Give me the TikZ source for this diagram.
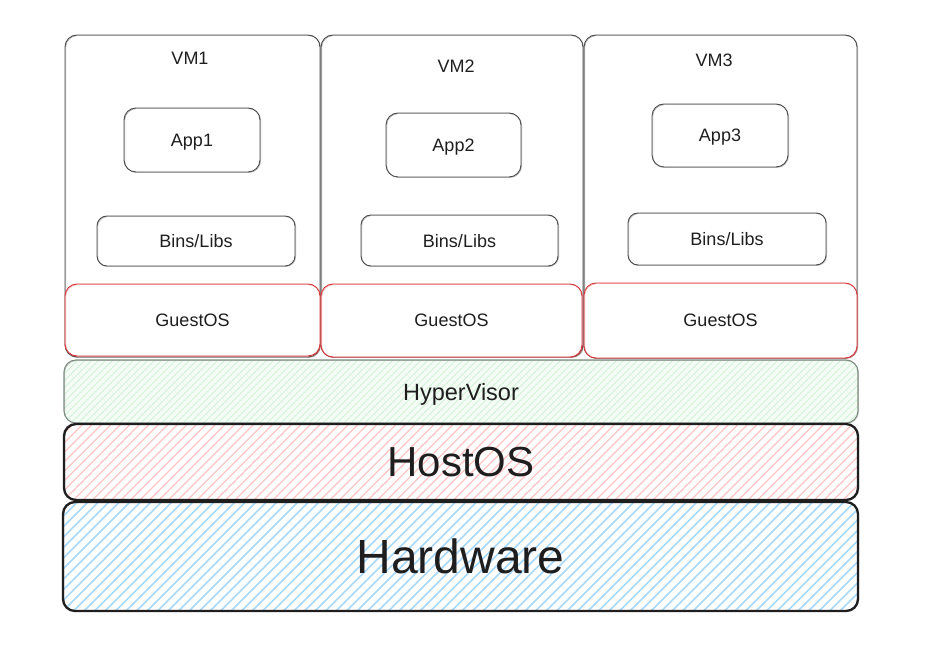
\documentclass[tikz,border=0pt]{standalone}
\usepackage{fontspec}
\setmainfont{Liberation Sans}
\usetikzlibrary{calc}

\definecolor{ink}{HTML}{1E1E1E}
\definecolor{vmline}{HTML}{4A4A4A}
\definecolor{osred}{HTML}{D9383A}
\definecolor{hvline}{HTML}{7F8C82}
\definecolor{hvfill}{HTML}{F4FCF5}
\definecolor{hvhatch}{HTML}{D2F2D8}
\definecolor{redhatch}{HTML}{FFC4C4}
\definecolor{bluehatch}{HTML}{A8D8FC}

\tikzset{
  x=1pt, y=-1pt,
  every node/.style={text=ink, inner sep=0pt, text depth=0pt},
  small/.style={font=\fontsize{18}{20}\selectfont},
  % hand-drawn look: a second, slightly shifted, faint stroke
  sketch/.style={postaction={draw=#1, opacity=0.45, line width=0.6pt,
      transform canvas={shift={(0.7pt,-0.6pt)}}}},
  vmbox/.style={draw=vmline, line width=0.9pt, rounded corners=12pt, sketch=vmline},
  appbox/.style={draw=vmline, line width=0.9pt, rounded corners=12pt, sketch=vmline, small},
  libbox/.style={draw=vmline, line width=0.9pt, rounded corners=10pt, sketch=vmline, small},
  osbox/.style={draw=osred, fill=white, line width=0.9pt, rounded corners=12pt, sketch=osred, small},
  % diagonal hatching: colour, spacing, stroke width
  hatch/.style n args={3}{path picture={
      \foreach \k in {-14,...,120}{
        \draw[#1, line width=#3]
          ($(path picture bounding box.south west)+(\k*#2,0)$) -- ++(125,-125);
      }}},
  layer/.style={rounded corners=12pt},
}

\begin{document}
\begin{tikzpicture}
\useasboundingbox (0,0) rectangle (931,652);

% virtual machines
\node[vmbox, minimum width=255pt, minimum height=322pt] (vm1) at (192.5,196) {};
\node[vmbox, minimum width=262pt, minimum height=322pt] (vm2) at (452,196) {};
\node[vmbox, minimum width=273pt, minimum height=323pt] (vm3) at (720.5,196.5) {};

\node[small] (vm1t) at (190,58) {VM1};
\node[small] (vm2t) at (456,66) {VM2};
\node[small] (vm3t) at (714,60) {VM3};

% applications
\node[appbox, minimum width=136pt, minimum height=64pt] (app1) at (192,140) {App1};
\node[appbox, minimum width=135pt, minimum height=64pt] (app2) at (453.5,145) {App2};
\node[appbox, minimum width=136pt, minimum height=63pt] (app3) at (720,135.5) {App3};

% binaries and libraries
\node[libbox, minimum width=198pt, minimum height=50pt] (lib1) at (196,241) {Bins/Libs};
\node[libbox, minimum width=197pt, minimum height=51pt] (lib2) at (459.5,240.5) {Bins/Libs};
\node[libbox, minimum width=198pt, minimum height=52pt] (lib3) at (727,239) {Bins/Libs};

% guest operating systems
\node[osbox, minimum width=255pt, minimum height=72pt] (os1) at (192.5,320) {GuestOS};
\node[osbox, minimum width=261pt, minimum height=73pt] (os2) at (451.5,320.5) {GuestOS};
\node[osbox, minimum width=273pt, minimum height=75pt] (os3) at (720.5,320.5) {GuestOS};

% shared layers
\node[layer, draw=hvline, fill=hvfill, line width=1.1pt, sketch=hvline,
      hatch={hvhatch}{7}{0.8pt},
      minimum width=794pt, minimum height=63pt,
      font=\fontsize{23.5}{26}\selectfont] (hyper) at (461,391.5) {HyperVisor};
\node[layer, draw=ink, fill=white, line width=2.3pt, sketch=ink,
      hatch={redhatch}{9.5}{1.3pt},
      minimum width=794pt, minimum height=76pt,
      font=\fontsize{42}{46}\selectfont] (host) at (461,462) {HostOS};
\node[layer, draw=ink, fill=white, line width=2.3pt, sketch=ink,
      hatch={bluehatch}{10.5}{1.6pt},
      minimum width=795pt, minimum height=109pt,
      font=\fontsize{48}{52}\selectfont] (hw) at (460.5,556.5) {Hardware};
\end{tikzpicture}
\end{document}
